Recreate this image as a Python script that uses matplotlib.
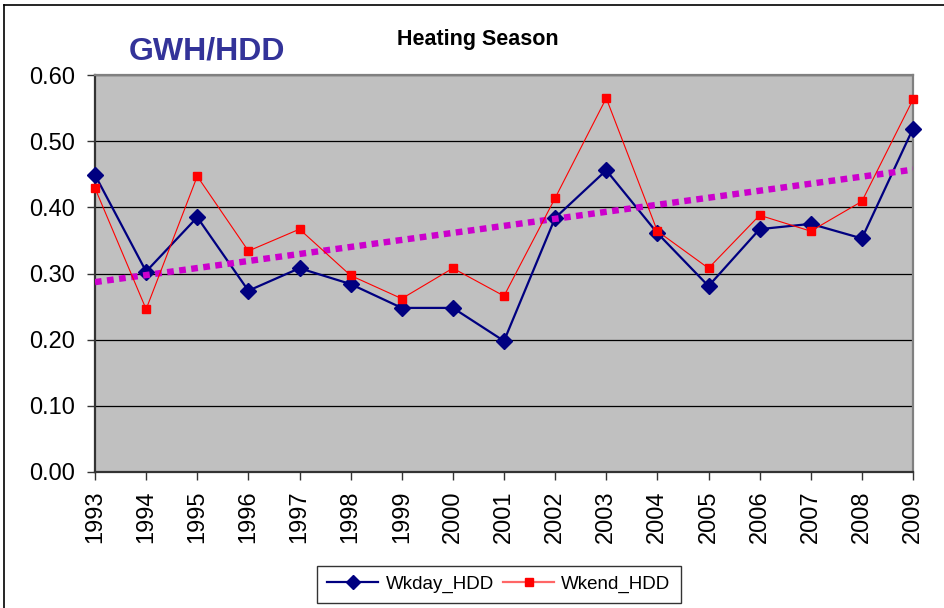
import matplotlib
matplotlib.use("Agg")
import matplotlib.pyplot as plt
from matplotlib.lines import Line2D

plt.rcParams['font.family'] = ['Liberation Sans', 'DejaVu Sans']

# values
years = [1993, 1994, 1995, 1996, 1997, 1998, 1999, 2000, 2001,
         2002, 2003, 2004, 2005, 2006, 2007, 2008, 2009]
wkday_hdd = [0.449, 0.303, 0.385, 0.274, 0.308, 0.284, 0.248, 0.248, 0.198,
             0.384, 0.456, 0.361, 0.281, 0.367, 0.375, 0.353, 0.519]
wkend_hdd = [0.429, 0.246, 0.447, 0.334, 0.367, 0.297, 0.262, 0.308, 0.266,
             0.414, 0.565, 0.364, 0.308, 0.388, 0.364, 0.409, 0.563]
# linear trend line drawn in the chart (value at first and last year)
trend_ends = [0.287, 0.457]
y_ticks = [0.0, 0.1, 0.2, 0.3, 0.4, 0.5, 0.6]

W, H = 944, 608
fig = plt.figure(figsize=(W / 100, H / 100), dpi=100)
ax = fig.add_axes([95 / W, (H - 472) / H, (913 - 95) / W, (472 - 75) / H])
ax.set_facecolor('#C0C0C0')

ax.plot(years, wkday_hdd, color='#000080', lw=1.6, marker='D', ms=8.5,
        zorder=3, clip_on=False, label='Wkday_HDD')
ax.plot(years, wkend_hdd, color='#FF0000', lw=0.8, marker='s', ms=6,
        zorder=4, clip_on=False, label='Wkend_HDD')
ax.plot([years[0], years[-1]], trend_ends, color='#CC00CC', lw=4.6,
        linestyle=(0, (1.05, 0.85)), zorder=3.5)

ax.set_xlim(years[0], years[-1])
ax.set_ylim(y_ticks[0], y_ticks[-1])
ax.set_xticks(years)
ax.set_xticklabels([str(y) for y in years], rotation=90, fontsize=17)
ax.set_yticks(y_ticks)
ax.set_yticklabels([f'{v:.2f}' for v in y_ticks], fontsize=17)
ax.tick_params(direction='out', length=5.5, width=1, color='#333333')
ax.tick_params(axis='y', pad=9)
ax.tick_params(axis='x', pad=8)
ax.yaxis.grid(True, color='black', lw=0.9)
ax.set_axisbelow(True)

for side in ['left', 'bottom']:
    ax.spines[side].set_color('#333333')
    ax.spines[side].set_linewidth(1.6)
for side in ['top', 'right']:
    ax.spines[side].set_color('#808080')
    ax.spines[side].set_linewidth(1.6)

# chart titles
fig.text(129 / W, 1 - 59 / H, 'GWH/HDD', color='#333399', fontsize=23,
         fontweight='bold', ha='left', va='baseline')
fig.text(478 / W, 1 - 45 / H, 'Heating Season', color='black', fontsize=15.5,
         fontweight='bold', ha='center', va='baseline')

# legend
handles = [Line2D([], [], color='#000080', lw=1.6, marker='D', ms=7),
           Line2D([], [], color='#FF6666', lw=1.6, marker='s', ms=6,
                  mfc='#FF0000', mec='#FF0000')]
leg = fig.legend(handles, ['Wkday_HDD', 'Wkend_HDD'], loc='center',
                 bbox_to_anchor=(499 / W, 1 - 584.5 / H), ncol=2,
                 fontsize=13.5, frameon=True, fancybox=False, framealpha=1,
                 edgecolor='#333333', handlelength=2.7, columnspacing=0.5,
                 handletextpad=0.4, borderpad=0.55, borderaxespad=0.3)
leg.get_frame().set_linewidth(1.0)

# outer chart border
fig.add_artist(Line2D([4 / W, 4 / W], [0, 1 - 5 / H], color='black', lw=1.2,
                      transform=fig.transFigure))
fig.add_artist(Line2D([4 / W, 1], [1 - 5 / H, 1 - 5 / H], color='black', lw=1.2,
                      transform=fig.transFigure))

fig.savefig('out.png', dpi=100)
